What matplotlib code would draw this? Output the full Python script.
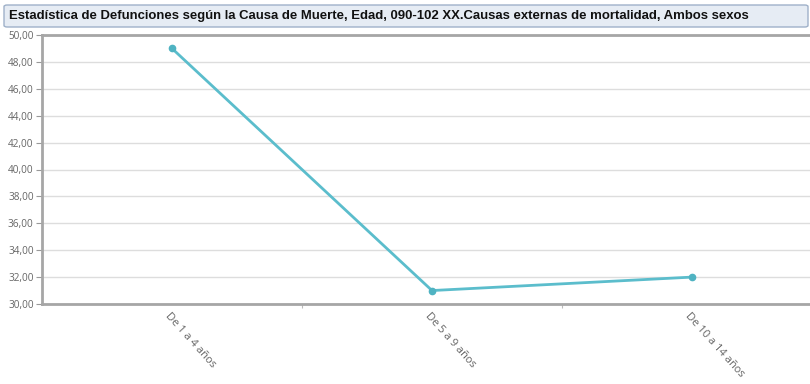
import matplotlib.pyplot as plt
from matplotlib.patches import FancyBboxPatch

# Defunciones por grupo de edad
categorias = ['De 1 a 4 años', 'De 5 a 9 años', 'De 10 a 14 años']
defunciones = [49, 31, 32]
ticks_y = [30, 32, 34, 36, 38, 40, 42, 44, 46, 48, 50]

titulo = ('Estadística de Defunciones según la Causa de Muerte, Edad, '
          '090-102 XX.Causas externas de mortalidad, Ambos sexos')

W, H = 810, 384
fig = plt.figure(figsize=(W / 100, H / 100), dpi=100)

# Title bar across the top
barra = FancyBboxPatch((4 / W, 1 - 27 / H), 804 / W, 22 / H,
                       boxstyle='round,pad=0,rounding_size=0.004',
                       transform=fig.transFigure, facecolor='#e6ecf4',
                       edgecolor='#9fb1c9', linewidth=1)
fig.patches.append(barra)
fig.text(9 / W, 1 - 16 / H, titulo, fontsize=9.45, fontweight='bold',
         family=['Liberation Sans', 'DejaVu Sans'],
         va='center', ha='left', color='#111111')

# Plot area runs past the right edge of the figure
x0, x1 = 42, 822
y0, y1 = 35, 304
ax = fig.add_axes([x0 / W, 1 - y1 / H, (x1 - x0) / W, (y1 - y0) / H])

posiciones = list(range(len(categorias)))
ax.plot(posiciones, defunciones, color='#5bbdcc', linewidth=2,
        marker='o', markersize=4.5, markerfacecolor='#4fb3c2',
        markeredgecolor='#4fb3c2', zorder=3)

ax.set_xlim(-0.5, len(categorias) - 0.5)
ax.set_ylim(30, 50)
ax.set_yticks(ticks_y)
ax.set_yticklabels([f'{v:.2f}'.replace('.', ',') for v in ticks_y],
                   fontsize=7.2, color='#666666', family='Open Sans')
ax.grid(axis='y', color='#dddddd', linewidth=1)
ax.set_axisbelow(True)

# Category ticks sit on band boundaries; labels at band centres
ax.set_xticks([p + 0.5 for p in posiciones[:-1]])
ax.set_xticklabels([])
ax.tick_params(axis='x', length=3, color='#bbbbbb', direction='out')
ax.tick_params(axis='y', length=4, color='#999999', pad=2)
for p, nombre in zip(posiciones, categorias):
    ax.text(p - 0.02, 29.2, nombre, rotation=-48, rotation_mode='anchor',
            ha='left', va='center', fontsize=8, color='#666666',
            family='Open Sans', clip_on=False)

for lado in ['left', 'bottom', 'top']:
    ax.spines[lado].set_color('#a6a6a6')
    ax.spines[lado].set_linewidth(2)
ax.spines['right'].set_visible(False)

fig.savefig('out.png', dpi=100)
